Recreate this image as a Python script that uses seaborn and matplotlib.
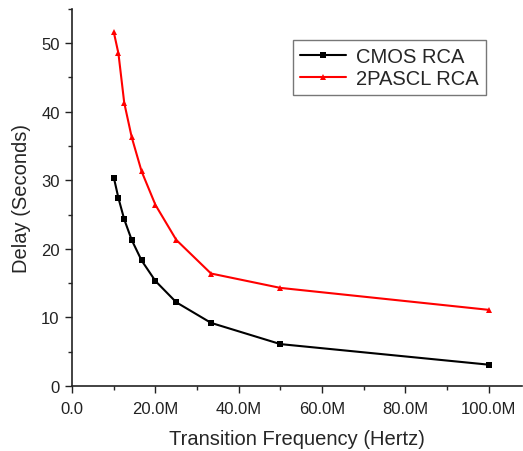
import numpy as np
import pandas as pd
import matplotlib
matplotlib.use("Agg")
import matplotlib.pyplot as plt
import seaborn as sns
from matplotlib.ticker import MultipleLocator, FuncFormatter

freq_mhz = [10.0, 11.11, 12.5, 14.29, 16.67, 20.0, 25.0, 33.33, 50.0, 100.0]
cmos = [30.4, 27.4, 24.3, 21.3, 18.3, 15.3, 12.2, 9.2, 6.1, 3.1]
pascl = [51.6, 48.5, 41.3, 36.3, 31.3, 26.4, 21.3, 16.4, 14.3, 11.1]
series = ["CMOS RCA", "2PASCL RCA"]

sns.set_theme(style="ticks")
plt.rcParams['font.family'] = ['Liberation Sans', 'DejaVu Sans']

df = pd.DataFrame({
    "freq": freq_mhz * 2,
    "delay": cmos + pascl,
    "series": [series[0]] * len(cmos) + [series[1]] * len(pascl),
})

fig = plt.figure(figsize=(5.23, 4.52), dpi=100)
ax = fig.add_axes([0.138, 0.144, 0.86, 0.834])
sns.lineplot(data=df, x="freq", y="delay", hue="series", style="series",
             palette={series[0]: "black", series[1]: "red"},
             markers={series[0]: "s", series[1]: "^"},
             dashes=False, markersize=4.5, markeredgewidth=0, linewidth=1.5,
             ax=ax)

ax.set_xlim(0, 108)
ax.set_ylim(0, 55)
ax.xaxis.set_major_locator(MultipleLocator(20))
ax.xaxis.set_minor_locator(MultipleLocator(10))
ax.yaxis.set_major_locator(MultipleLocator(10))
ax.yaxis.set_minor_locator(MultipleLocator(5))
ax.xaxis.set_major_formatter(FuncFormatter(lambda v, p: "0.0" if v == 0 else f"{v:.1f}M"))
ax.tick_params(axis="both", which="major", length=5, width=1, labelsize=12, colors="#222222", direction="out", pad=4)
ax.tick_params(axis="x", which="major", pad=6)
ax.tick_params(axis="both", which="minor", length=3, width=1, direction="out")
for s in ["top", "right"]:
    ax.spines[s].set_visible(False)
for s in ["left", "bottom"]:
    ax.spines[s].set_linewidth(1.2)
    ax.spines[s].set_color("#222222")

ax.set_xlabel("Transition Frequency (Hertz)", fontsize=14.5, labelpad=9)
ax.set_ylabel("Delay (Seconds)", fontsize=14.5, labelpad=7)

leg = ax.legend(loc="upper left", bbox_to_anchor=(0.49, 0.917), fontsize=14.5,
                frameon=True, fancybox=False, edgecolor="#555555",
                handlelength=2.3, handletextpad=0.5, borderpad=0.35, labelspacing=0.15,
                borderaxespad=0)
leg.get_frame().set_linewidth(1.0)

fig.savefig("out.png", dpi=100)
